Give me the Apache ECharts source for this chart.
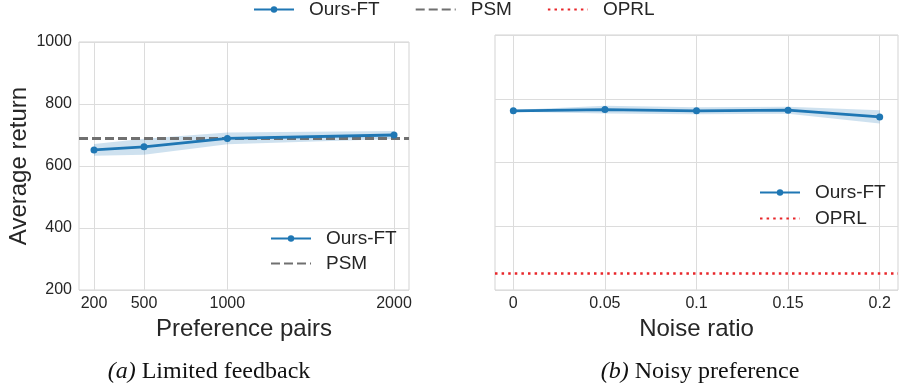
<!DOCTYPE html>
<html>
<head>
<meta charset="utf-8">
<script src="https://cdn.jsdelivr.net/npm/echarts@6/dist/echarts.min.js"></script>
<style>
  html, body { margin: 0; padding: 0; background: #fff; }
  #chart { width: 899px; height: 387px; }
</style>
</head>
<body>
<div id="chart"></div>
<script>
// (a) limited feedback
const pairs = [200, 500, 1000, 2000]
const ftLimited = [652, 662, 689, 700]
const ftLimitedStd = [19, 26, 19, 13]
const psmReturn = 690
// (b) noisy preference
const noise = [0, 0.05, 0.1, 0.15, 0.2]
const noiseLabels = ['0', '0.05', '0.1', '0.15', '0.2']
const ftNoisy = [762, 766, 762, 764, 743]
const ftNoisyStd = [3, 12, 11, 11, 21]
const oprlReturn = 252

const blue = '#1f77b4'
const gray = '#707070'
const red = '#e8262a'
const dark = '#262626'
const font = 'Liberation Sans, Arial, sans-serif'
const serif = 'Liberation Serif, Times New Roman, serif'

const chart = echarts.init(document.getElementById('chart'))

// shaded std band, drawn once as a polygon through the axis coords
function bandSeries(xs, ys, sd, idx) {
  const data = xs.map((x, i) => [x, ys[i] - sd[i], ys[i] + sd[i]])
  return {
    name: 'band' + idx, type: 'custom', xAxisIndex: idx, yAxisIndex: idx,
    silent: true, z: 1,
    encode: { x: 0, y: [1, 2] },
    data: data,
    renderItem: function (params, api) {
      if (params.dataIndex !== 0) return null
      const upper = data.map(d => api.coord([d[0], d[2]]))
      const lower = data.map(d => api.coord([d[0], d[1]])).reverse()
      return {
        type: 'polygon',
        shape: { points: upper.concat(lower) },
        style: { fill: 'rgba(31,119,180,0.22)' }
      }
    }
  }
}

function ftSeries(xs, ys, idx) {
  return {
    name: 'Ours-FT', type: 'line', xAxisIndex: idx, yAxisIndex: idx,
    symbol: 'circle', symbolSize: 7, z: 5,
    itemStyle: { color: blue },
    lineStyle: { color: blue, width: 2.8 },
    data: xs.map((x, i) => [x, ys[i]])
  }
}

function refSeries(name, value, idx, color, width, type) {
  return {
    name: name, type: 'line', xAxisIndex: idx, yAxisIndex: idx,
    symbol: 'none', data: [],
    itemStyle: { color: color },
    lineStyle: { color: color, width: width, type: type },
    markLine: {
      silent: true, symbol: 'none', label: { show: false },
      lineStyle: { color: color, width: width, type: type },
      data: [{ yAxis: value }]
    }
  }
}

const splitLine = { show: true, lineStyle: { color: '#dcdcdc', width: 1 } }
const tickLabel = { color: dark, fontSize: 16, fontFamily: font }
const axisName = { color: dark, fontSize: 24, fontFamily: font }
const legendText = { fontSize: 19, fontFamily: font, color: dark, padding: [0, 0, 0, 10] }

function legendItems(names) {
  return names.map(n => n === 'Ours-FT' ? { name: n } : { name: n, itemStyle: { opacity: 0 } })
}

let option = {
  animation: false,
  grid: [
    { left: 79, top: 42, width: 330, height: 248, show: true, borderColor: '#d3d3d3', borderWidth: 1 },
    { left: 495, top: 35, width: 403, height: 255, show: true, borderColor: '#d3d3d3', borderWidth: 1 }
  ],
  xAxis: [
    {
      gridIndex: 0, type: 'value', min: 110, max: 2090,
      name: 'Preference pairs', nameLocation: 'middle', nameGap: 23, nameTextStyle: axisName,
      axisLine: { show: false }, axisTick: { show: false, customValues: pairs },
      axisLabel: Object.assign({ margin: 6, customValues: pairs, formatter: v => String(v) }, tickLabel),
      splitLine: splitLine
    },
    {
      gridIndex: 1, type: 'value', min: -0.01, max: 0.21,
      name: 'Noise ratio', nameLocation: 'middle', nameGap: 23, nameTextStyle: axisName,
      axisLine: { show: false }, axisTick: { show: false, customValues: noise },
      axisLabel: Object.assign({
        margin: 6, customValues: noise,
        formatter: v => noiseLabels[noise.findIndex(n => Math.abs(n - v) < 1e-6)]
      }, tickLabel),
      splitLine: splitLine
    }
  ],
  yAxis: [
    {
      gridIndex: 0, type: 'value', min: 200, max: 1000, interval: 200,
      name: 'Average return', nameLocation: 'middle', nameGap: 48, nameTextStyle: axisName,
      axisLine: { show: false }, axisTick: { show: false },
      axisLabel: Object.assign({ margin: 7, formatter: v => String(v) }, tickLabel),
      splitLine: splitLine
    },
    {
      gridIndex: 1, type: 'value', min: 200, max: 1000, interval: 200,
      axisLine: { show: false }, axisTick: { show: false },
      axisLabel: { show: false },
      splitLine: splitLine
    }
  ],
  legend: [
    {
      left: 253, top: 0, padding: 0, itemWidth: 40, itemHeight: 8, itemGap: 35,
      data: legendItems(['Ours-FT', 'PSM', 'OPRL']),
      textStyle: legendText
    },
    {
      left: 270, top: 229, padding: 0, orient: 'vertical', itemWidth: 40, itemHeight: 8, itemGap: 6,
      data: legendItems(['Ours-FT', 'PSM']),
      textStyle: legendText
    },
    {
      left: 759, top: 183, padding: 0, orient: 'vertical', itemWidth: 40, itemHeight: 8, itemGap: 7,
      data: legendItems(['Ours-FT', 'OPRL']),
      textStyle: legendText
    }
  ],
  graphic: [
    {
      type: 'text', x: 209, y: 372,
      style: {
        text: '{i|(a)} Limited feedback', align: 'center', verticalAlign: 'middle', fill: '#111',
        font: '24px ' + serif,
        rich: { i: { fontStyle: 'italic', fontSize: 24, fontFamily: serif } }
      }
    },
    {
      type: 'text', x: 700, y: 372,
      style: {
        text: '{i|(b)} Noisy preference', align: 'center', verticalAlign: 'middle', fill: '#111',
        font: '24px ' + serif,
        rich: { i: { fontStyle: 'italic', fontSize: 24, fontFamily: serif } }
      }
    }
  ],
  series: [
    bandSeries(pairs, ftLimited, ftLimitedStd, 0),
    ftSeries(pairs, ftLimited, 0),
    refSeries('PSM', psmReturn, 0, gray, 3, [9, 4]),
    bandSeries(noise, ftNoisy, ftNoisyStd, 1),
    ftSeries(noise, ftNoisy, 1),
    refSeries('OPRL', oprlReturn, 1, red, 2.5, [2.5, 4.1])
  ]
}

chart.setOption(option)
</script>
</body>
</html>
